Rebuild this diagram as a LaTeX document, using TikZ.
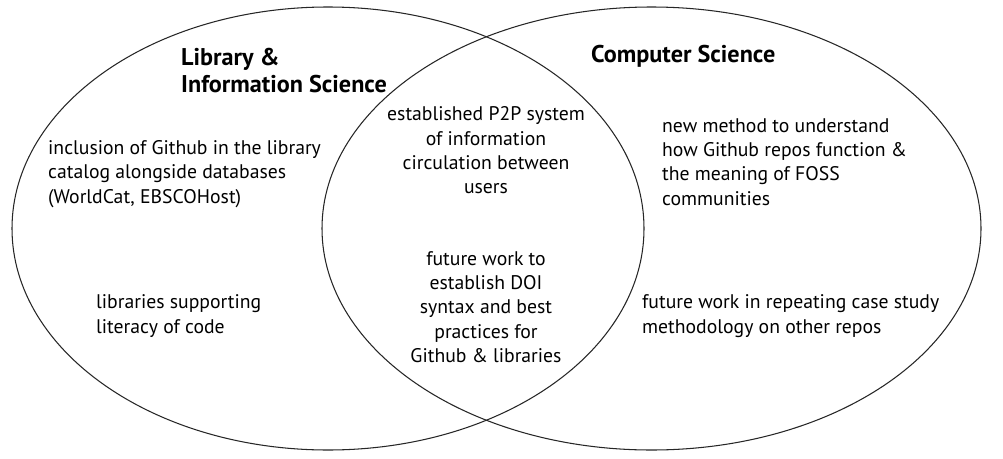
\documentclass[tikz,border=0pt]{standalone}
\usepackage{fontspec}
\setmainfont{PT Sans}
\begin{document}
\begin{tikzpicture}[x=1pt,y=-1pt,
  venn/.style={draw=black!85,line width=1.05pt},
  body/.style={inner sep=0pt,font=\fontsize{19.7}{24.3}\selectfont},
  title/.style={inner sep=0pt,font=\fontsize{24.2}{27}\selectfont\bfseries},
]
\useasboundingbox[fill=white] (0,0) rectangle (1003,458);
\draw[venn] (328,228.5) ellipse [x radius=316, y radius=221.5];
\draw[venn] (651.5,228.5) ellipse [x radius=329.5, y radius=221.5];
\node[title,anchor=west,align=left] (lis) at (181,71) {Library \&\\Information Science};
\node[title,anchor=west] (cs) at (591,56.5) {Computer Science};
\node[body,anchor=west,align=left] (l1) at (48,174) {inclusion of Github in the library\\catalog alongside databases\\(WorldCat, EBSCOHost)};
\node[body,anchor=west,align=left] (l2) at (96,316) {libraries supporting\\literacy of code};
\node[body,align=center] (c1) at (486,150.5) {established P2P system\\of information\\circulation between\\users};
\node[body,align=center] (c2) at (486,307) {future work to\\establish DOI\\syntax and best\\practices for\\Github \& libraries};
\node[body,anchor=west,align=left] (r1) at (662,162) {new method to understand\\how Github repos function \&\\the meaning of FOSS\\communities};
\node[body,anchor=west,align=left] (r2) at (642,316) {future work in repeating case study\\methodology on other repos};
\end{tikzpicture}
\end{document}
